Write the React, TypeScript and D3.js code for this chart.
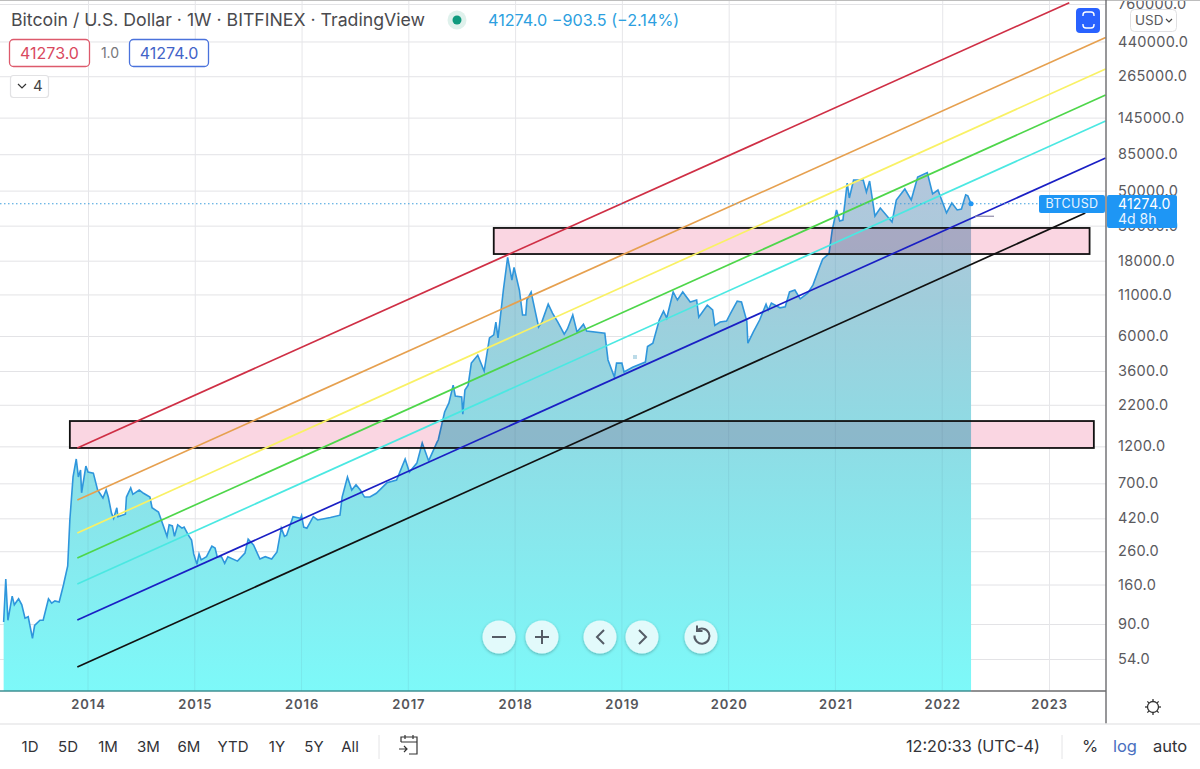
import { useEffect, useRef } from "react";
import * as d3 from "d3";

const priceYears = [
  2013.21, 2013.23, 2013.25, 2013.29, 2013.31, 2013.35, 2013.38, 2013.41, 2013.44, 2013.48, 2013.5, 2013.55, 2013.58,
  2013.63, 2013.66, 2013.69, 2013.73, 2013.77, 2013.81, 2013.83, 2013.86, 2013.89, 2013.91, 2013.93, 2013.94, 2013.98,
  2014.0, 2014.05, 2014.09, 2014.14, 2014.17, 2014.19, 2014.22, 2014.24, 2014.27, 2014.28, 2014.35, 2014.36, 2014.4,
  2014.42, 2014.48, 2014.52, 2014.58, 2014.6, 2014.66, 2014.74, 2014.76, 2014.79, 2014.81, 2014.84, 2014.88, 2014.9,
  2014.94, 2014.97, 2014.99, 2015.02, 2015.04, 2015.06, 2015.11, 2015.16, 2015.19, 2015.21, 2015.25, 2015.28, 2015.31,
  2015.4, 2015.47, 2015.5, 2015.55, 2015.61, 2015.66, 2015.72, 2015.77, 2015.81, 2015.84, 2015.86, 2015.92, 2015.99,
  2016.0, 2016.02, 2016.05, 2016.11, 2016.15, 2016.27, 2016.36, 2016.38, 2016.43, 2016.47, 2016.51, 2016.55, 2016.59,
  2016.64, 2016.7, 2016.8, 2016.89, 2016.97, 2017.01, 2017.08, 2017.13, 2017.19, 2017.27, 2017.28, 2017.34, 2017.38,
  2017.42, 2017.44, 2017.5, 2017.51, 2017.53, 2017.56, 2017.59, 2017.65, 2017.71, 2017.76, 2017.8, 2017.82, 2017.84,
  2017.89, 2017.93, 2017.97, 2017.99, 2018.04, 2018.07, 2018.1, 2018.11, 2018.15, 2018.19, 2018.22, 2018.25, 2018.31,
  2018.35, 2018.4, 2018.46, 2018.49, 2018.54, 2018.58, 2018.64, 2018.67, 2018.84, 2018.87, 2018.93, 2018.95, 2019.0,
  2019.02, 2019.1, 2019.22, 2019.24, 2019.29, 2019.35, 2019.39, 2019.42, 2019.48, 2019.52, 2019.57, 2019.64, 2019.7,
  2019.72, 2019.8, 2019.85, 2019.87, 2019.92, 2019.98, 2020.03, 2020.08, 2020.12, 2020.17, 2020.18, 2020.23, 2020.29,
  2020.35, 2020.37, 2020.4, 2020.48, 2020.53, 2020.57, 2020.62, 2020.67, 2020.74, 2020.79, 2020.85, 2020.88, 2020.94,
  2020.97, 2021.01, 2021.04, 2021.07, 2021.11, 2021.13, 2021.17, 2021.26, 2021.29, 2021.32, 2021.37, 2021.42, 2021.53,
  2021.57, 2021.65, 2021.71, 2021.77, 2021.86, 2021.91, 2021.96, 2022.04, 2022.09, 2022.14, 2022.18, 2022.22, 2022.24,
  2022.27,
];

const priceValues = [
  92.6, 173, 95, 135, 119, 130, 119, 98, 100, 73, 88, 95, 95,
  130, 122, 126, 124, 159, 210, 410, 768, 998, 768, 850, 610, 900,
  825, 812, 635, 565, 635, 573, 453, 420, 490, 430, 446, 573, 655,
  596, 635, 605, 573, 490, 460, 323, 382, 376, 323, 382, 364, 370,
  329, 306, 250, 215, 250, 229, 240, 280, 272, 240, 240, 218, 240,
  225, 253, 310, 285, 232, 240, 232, 257, 364, 323, 328, 430, 420,
  438, 370, 364, 430, 410, 425, 440, 573, 768, 635, 685, 635, 573,
  573, 605, 705, 735, 998, 825, 940, 1260, 970, 1280, 1316, 1980, 2260,
  2930, 2500, 2470, 1920, 2729, 2930, 4040, 4530, 3600, 5830, 6100, 7350, 5830,
  11730, 18900, 13575, 16300, 11730, 8150, 8150, 10140, 11400, 8500, 6850, 7350, 9550,
  8380, 7350, 6170, 6650, 8150, 6350, 7130, 6450, 6250, 4230, 3300, 4040, 4040,
  3550, 3800, 4100, 5150, 5400, 7575, 8630, 7800, 11400, 10140, 11400, 9850, 10140,
  7900, 9400, 8765, 7000, 7350, 7460, 8640, 9980, 9850, 7460, 5400, 6350, 7575,
  9550, 8765, 9700, 9050, 9180, 11400, 11730, 10300, 11200, 12640, 16300, 18400, 19950,
  28145, 37700, 32100, 32560, 55800, 44900, 58350, 58350, 49000, 57500, 34500, 38800, 31600,
  43590, 51200, 43590, 61000, 65000, 47700, 50400, 36100, 41700, 37700, 38200, 47000, 46300,
  41274,
];

const trendColors = ["#cf2f45", "#e6a04f", "#f9f165", "#4ed64a", "#4be8e2", "#1a1fc4", "#111111"];
const trendStartYears = [2013.9, 2013.9, 2013.9, 2013.9, 2013.9, 2013.9, 2013.9];
const trendStartPrices = [1172, 549, 339, 235.5, 161, 95.4, 48];
const trendEndYears = [2023.19, 2023.53, 2023.53, 2023.53, 2023.53, 2023.53, 2023.34];
const trendEndPrices = [775000, 466000, 294600, 201500, 137900, 80400, 36070];

const zoneStartYears = [2013.83, 2017.8];
const zoneEndYears = [2023.42, 2023.38];
const zoneTopPrices = [1736, 29000];
const zoneBottomPrices = [1172, 19830];

const priceTicks = [
  760000, 440000, 265000, 145000, 85000, 50000, 30000, 18000, 11000, 6000, 3600, 2200, 1200, 700, 420, 260, 160, 90, 54,
];
const yearTicks = [2014, 2015, 2016, 2017, 2018, 2019, 2020, 2021, 2022, 2023];
const rangeButtons = ["1D", "5D", "1M", "3M", "6M", "YTD", "1Y", "5Y", "All"];
const rangeButtonX = [30, 68, 108, 148.5, 189, 233, 277, 314, 350];
const lastPrice = 41274;

const width = 1200;
const height = 769;
const paneRight = 1106;
const paneBottom = 691;
const font = "Inter, 'Noto Sans', sans-serif";

export default function App() {
  const svgRef = useRef<SVGSVGElement | null>(null);

  useEffect(() => {
    const svg = d3.select(svgRef.current);
    svg.selectAll("*").remove();

    const x = d3.scaleLinear().domain([2014, 2023]).range([88, 1049]);
    const y = d3.scaleLog().domain([54, 760000]).range([659, 4]);

    const points = priceYears.map((yr, i) => [yr, priceValues[i]] as [number, number]);
    const areaPath = d3
      .area<[number, number]>()
      .x((d) => x(d[0]))
      .y0(paneBottom)
      .y1((d) => y(d[1]));

    const defs = svg.append("defs");
    const grad = defs
      .append("linearGradient")
      .attr("id", "areaFill")
      .attr("gradientUnits", "userSpaceOnUse")
      .attr("x1", 0)
      .attr("x2", 0)
      .attr("y1", 170)
      .attr("y2", paneBottom);
    grad.append("stop").attr("offset", 0).attr("stop-color", "#b5c6dc");
    grad.append("stop").attr("offset", 0.25).attr("stop-color", "#a0cddb");
    grad.append("stop").attr("offset", 0.5).attr("stop-color", "#8fdbe4");
    grad.append("stop").attr("offset", 1).attr("stop-color", "#7df9f9");
    defs
      .append("clipPath")
      .attr("id", "pane")
      .append("rect")
      .attr("width", paneRight)
      .attr("height", paneBottom);
    defs.append("clipPath").attr("id", "underPrice").append("path").attr("d", areaPath(points));
    const shadow = defs.append("filter").attr("id", "btnShadow").attr("x", "-30%").attr("y", "-30%").attr("width", "160%").attr("height", "160%");
    shadow.append("feDropShadow").attr("dx", 0).attr("dy", 1).attr("stdDeviation", 1.5).attr("flood-color", "#000").attr("flood-opacity", 0.3);

    svg.append("rect").attr("width", width).attr("height", height).attr("fill", "#fff");

    // grid comes from the axes
    const yAxis = svg
      .append("g")
      .attr("transform", `translate(${paneRight},0)`)
      .call(
        d3
          .axisRight(y)
          .tickValues(priceTicks)
          .tickSize(-paneRight)
          .tickPadding(12)
          .tickFormat((d) => d3.format(".1f")(d as number))
      );
    yAxis.select(".domain").remove();
    yAxis.selectAll("line").attr("stroke", "#e3e3e6");
    yAxis.selectAll("text").attr("fill", "#5a5a5e").attr("font-family", font).attr("font-size", 14.5).attr("letter-spacing", 0.3);

    const xAxis = svg
      .append("g")
      .attr("transform", `translate(0,${paneBottom})`)
      .call(
        d3
          .axisBottom(x)
          .tickValues(yearTicks)
          .tickSize(-paneBottom)
          .tickPadding(9)
          .tickFormat((d) => String(d))
      );
    xAxis.select(".domain").remove();
    xAxis.selectAll("line").attr("stroke", "#e6e6e9");
    xAxis.selectAll("text").attr("fill", "#55555a").attr("font-family", font).attr("font-size", 13).attr("font-weight", 600).attr("letter-spacing", 0.9);

    const pane = svg.append("g").attr("clip-path", "url(#pane)");

    pane.append("path").attr("fill", "url(#areaFill)").attr("d", areaPath(points));

    // year grid shows faintly through the fill
    pane
      .append("g")
      .attr("clip-path", "url(#underPrice)")
      .selectAll("line")
      .data(yearTicks.filter((d) => d <= 2022))
      .enter()
      .append("line")
      .attr("x1", (d) => x(d))
      .attr("x2", (d) => x(d))
      .attr("y1", 0)
      .attr("y2", paneBottom)
      .attr("stroke", "#5a8fa0")
      .attr("stroke-opacity", 0.14);

    pane
      .append("path")
      .datum(points)
      .attr("fill", "none")
      .attr("stroke", "#2f96dc")
      .attr("stroke-width", 1.6)
      .attr(
        "d",
        d3
          .line<[number, number]>()
          .x((d) => x(d[0]))
          .y((d) => y(d[1]))
      );

    zoneStartYears.forEach((start, i) => {
      const rx = x(start);
      const ry = y(zoneTopPrices[i]);
      const rw = x(zoneEndYears[i]) - rx;
      const rh = y(zoneBottomPrices[i]) - ry;
      pane
        .append("rect")
        .attr("x", rx)
        .attr("y", ry)
        .attr("width", rw)
        .attr("height", rh)
        .attr("fill", "#fad6e2")
        .style("mix-blend-mode", "multiply");
      pane
        .append("rect")
        .attr("x", rx)
        .attr("y", ry)
        .attr("width", rw)
        .attr("height", rh)
        .attr("fill", "none")
        .attr("stroke", "#111")
        .attr("stroke-width", 1.8);
    });

    trendColors.forEach((color, i) => {
      pane
        .append("line")
        .attr("x1", x(trendStartYears[i]))
        .attr("y1", y(trendStartPrices[i]))
        .attr("x2", x(trendEndYears[i]))
        .attr("y2", y(trendEndPrices[i]))
        .attr("stroke", color)
        .attr("stroke-width", 1.7);
    });

    // last price line, marker and small dash
    const lastY = y(lastPrice);
    pane
      .append("line")
      .attr("x1", 0)
      .attr("x2", 1039)
      .attr("y1", lastY)
      .attr("y2", lastY)
      .attr("stroke", "#3f9fdc")
      .attr("stroke-width", 1)
      .attr("stroke-dasharray", "1.5 2.5");
    pane.append("circle").attr("cx", x(2022.27)).attr("cy", lastY).attr("r", 2.5).attr("fill", "#1e96f5");
    pane
      .append("line")
      .attr("x1", 975)
      .attr("x2", 994)
      .attr("y1", y(34400))
      .attr("y2", y(34400))
      .attr("stroke", "#8f8aa8")
      .attr("stroke-width", 1.2);
    pane.append("rect").attr("x", 633).attr("y", 355).attr("width", 4).attr("height", 4).attr("fill", "#bcdbe8");

    // pane borders
    svg.append("line").attr("x1", 0).attr("x2", width).attr("y1", 0.5).attr("y2", 0.5).attr("stroke", "#bdbdbd");
    svg.append("line").attr("x1", paneRight).attr("x2", paneRight).attr("y1", 0).attr("y2", 724).attr("stroke", "#6b6b6e").attr("stroke-width", 1.4);
    svg.append("line").attr("x1", 0).attr("x2", x(2022.27)).attr("y1", paneBottom).attr("y2", paneBottom).attr("stroke", "#3f8f92").attr("stroke-width", 1.6);
    svg.append("line").attr("x1", x(2022.27)).attr("x2", paneRight).attr("y1", paneBottom).attr("y2", paneBottom).attr("stroke", "#6b6b6e").attr("stroke-width", 1.4);
    svg.append("line").attr("x1", 0).attr("x2", width).attr("y1", 724).attr("y2", 724).attr("stroke", "#e8e8ea").attr("stroke-width", 1.5);

    const label = (tx: number, ty: number, str: string, color: string, size: number, anchor = "start") =>
      svg
        .append("text")
        .attr("x", tx)
        .attr("y", ty)
        .attr("dy", "0.35em")
        .attr("fill", color)
        .attr("font-family", font)
        .attr("font-size", size)
        .attr("text-anchor", anchor)
        .text(str);

    // price badges on top of the axis labels
    svg.append("rect").attr("x", 1039).attr("y", 195).attr("width", 66).attr("height", 18).attr("rx", 2).attr("fill", "#1e96f5");
    svg.append("rect").attr("x", 1107).attr("y", 195).attr("width", 70).attr("height", 33).attr("rx", 2).attr("fill", "#1e96f5");
    label(1072, 204, "BTCUSD", "#e8f4ff", 12.5, "middle").attr("letter-spacing", 0.4);
    label(1118, 204, "41274.0", "#fff", 14).attr("letter-spacing", 0.2);
    label(1118, 219, "4d 8h", "#e8f4ff", 14);

    // header
    label(11, 20, "Bitcoin / U.S. Dollar · 1W · BITFINEX · TradingView", "#4a4a4e", 17.7);
    svg.append("circle").attr("cx", 457).attr("cy", 20).attr("r", 9.5).attr("fill", "#dff1ec");
    svg.append("circle").attr("cx", 457).attr("cy", 20).attr("r", 4.5).attr("fill", "#0f9a7e");
    label(488, 20, "41274.0  −903.5 (−2.14%)", "#2d9fe0", 16.2);

    svg.append("rect").attr("x", 9.5).attr("y", 39.5).attr("width", 80).attr("height", 27).attr("rx", 4).attr("fill", "#fff").attr("stroke", "#dd5a6c").attr("stroke-width", 1.3);
    label(49.5, 53, "41273.0", "#d9495e", 16, "middle");
    label(110, 53, "1.0", "#77777b", 14, "middle");
    svg.append("rect").attr("x", 129.5).attr("y", 39.5).attr("width", 79).attr("height", 27).attr("rx", 4).attr("fill", "#fff").attr("stroke", "#4a72dc").attr("stroke-width", 1.3);
    label(169, 53, "41274.0", "#4263c8", 16, "middle");

    svg.append("rect").attr("x", 10.5).attr("y", 75.5).attr("width", 38).attr("height", 22).attr("rx", 3).attr("fill", "#fff").attr("stroke", "#e2e2e4").attr("stroke-width", 1.2);
    svg.append("path").attr("d", "M18 84 l4 4 l4 -4").attr("fill", "none").attr("stroke", "#333").attr("stroke-width", 1.2);
    label(33, 86, "4", "#444", 15);

    // top right controls
    svg.append("rect").attr("x", 1076).attr("y", 8).attr("width", 24).attr("height", 25).attr("rx", 4).attr("fill", "#2962ff");
    svg
      .append("path")
      .attr("d", "M1083 15 q0 -3 3 -3 h5 q3 0 3 3 M1083 25 q0 3 3 3 h5 q3 0 3 -3 M1083 15 v1 M1094 15 v1 M1083 25 v-1 M1094 25 v-1")
      .attr("fill", "none")
      .attr("stroke", "#fff")
      .attr("stroke-width", 1.4);
    svg.append("rect").attr("x", 1130.5).attr("y", 9.5).attr("width", 46).attr("height", 22).attr("rx", 4).attr("fill", "#fff").attr("fill-opacity", 0.9).attr("stroke", "#e0e0e2");
    label(1135, 20.5, "USD", "#5a5a5e", 13.5);
    svg.append("path").attr("d", "M1166 19 l3 3 l3 -3").attr("fill", "none").attr("stroke", "#444").attr("stroke-width", 1.2);

    // chart navigation buttons
    [499, 542, 600, 642, 701].forEach((cx) => {
      svg.append("circle").attr("cx", cx).attr("cy", 637).attr("r", 16.5).attr("fill", "#e2fafb").attr("filter", "url(#btnShadow)");
    });
    const nav = svg.append("g").attr("fill", "none").attr("stroke", "#555c66").attr("stroke-width", 2);
    nav.append("path").attr("d", "M492 637 h14");
    nav.append("path").attr("d", "M535 637 h14 M542 630 v14");
    nav.append("path").attr("d", "M604 630 l-7 7 l7 7");
    nav.append("path").attr("d", "M639 630 l7 7 l-7 7");
    nav.append("path").attr("d", "M697 630.5 a7.5 7.5 0 1 1 -2.5 5");
    nav.append("path").attr("d", "M697 625.5 v5.5 h5.5");

    // gear
    const gear = svg.append("g").attr("fill", "none").attr("stroke", "#333").attr("stroke-width", 1.3);
    gear.append("circle").attr("cx", 1153).attr("cy", 707).attr("r", 5.5);
    d3.range(8).forEach((k) => {
      const a = (k * Math.PI) / 4;
      gear
        .append("line")
        .attr("x1", 1153 + 5.5 * Math.cos(a))
        .attr("y1", 707 + 5.5 * Math.sin(a))
        .attr("x2", 1153 + 8 * Math.cos(a))
        .attr("y2", 707 + 8 * Math.sin(a));
    });

    // bottom toolbar
    rangeButtons.forEach((str, i) => label(rangeButtonX[i], 746.5, str, "#333338", 15, "middle"));
    svg.append("line").attr("x1", 379).attr("x2", 379).attr("y1", 735).attr("y2", 759).attr("stroke", "#e4e4e6");
    svg
      .append("path")
      .attr("d", "M401 742 v-5 h16 v17 h-8 M405 735 v4 M413 735 v4 M401 742 h16 M399 749 h8 M404 746 l3 3 l-3 3")
      .attr("fill", "none")
      .attr("stroke", "#333")
      .attr("stroke-width", 1.2);
    label(906, 746.5, "12:20:33 (UTC-4)", "#333338", 16.2);
    svg.append("line").attr("x1", 1062).attr("x2", 1062).attr("y1", 735).attr("y2", 759).attr("stroke", "#e4e4e6");
    label(1090, 746.5, "%", "#333338", 16.5, "middle");
    label(1125, 746.5, "log", "#4a6fc0", 16.5, "middle");
    label(1170, 746.5, "auto", "#333338", 16.5, "middle");
  }, []);

  return <svg ref={svgRef} width={width} height={height} style={{ position: "absolute", left: 0, top: 0 }} />;
}
